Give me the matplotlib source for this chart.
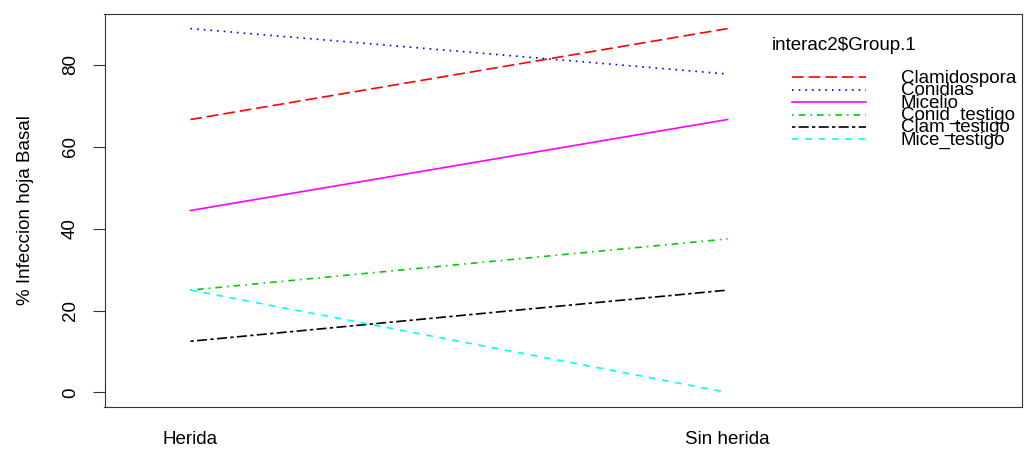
import matplotlib
matplotlib.use("Agg")
import matplotlib.pyplot as plt
from matplotlib.lines import Line2D

# datos de la interaccion (medias por grupo)
niveles = ["Herida", "Sin herida"]
grupos = ["Clamidospora", "Conidias", "Micelio", "Conid_testigo", "Clam_testigo", "Mice_testigo"]
herida = [66.67, 88.89, 44.44, 25.0, 12.5, 25.0]
sin_herida = [88.89, 77.78, 66.67, 37.5, 25.0, 0.0]
y_ticks = [0, 20, 40, 60, 80]

colores = ["#FF0000", "#0000FF", "#FF00FF", "#00CD00", "#000000", "#00FFFF"]
guiones = [(7, 3), (1, 3), None, (1, 3, 4, 3), (2, 2, 6, 2), (4, 4)]

plt.rcParams['font.family'] = ['Liberation Sans', 'DejaVu Sans']
plt.rcParams['font.size'] = 13.5

W, H = 1027, 449
fig = plt.figure(figsize=(W / 100, H / 100), dpi=100)
ax = fig.add_axes([104.5 / W, 1 - 407 / H, (1022 - 104.5) / W, (407 - 14) / H])

xs = [1, 2]
for g, a, b, c, d in zip(grupos, herida, sin_herida, colores, guiones):
    ln, = ax.plot(xs, [a, b], color=c, lw=1.2)
    if d is not None:
        ln.set_dashes(d)

ax.set_xlim(0.840, 2.548)
ax.set_ylim(-3.56, 92.45)
ax.set_xticks(xs)
ax.set_xticklabels(niveles)
ax.tick_params(axis='x', length=0, pad=17)
ax.set_yticks(y_ticks)
ax.tick_params(axis='y', length=8.5, width=0.8, pad=10, color='#333333')
for t in ax.get_yticklabels():
    t.set_rotation(90)
    t.set_va('center')
ax.set_ylabel("% Infeccion hoja Basal", labelpad=20)
for s in ax.spines.values():
    s.set_linewidth(0.8)
    s.set_color('#333333')

# leyenda al estilo R (lineas solapadas)
def fx(px):
    return px / W

def fy(py):
    return 1 - py / H

fig.text(fx(772), fy(45), "interac2$Group.1", ha='left', va='center')
y0, dy = 77.3, 12.4
for i, (g, c, d) in enumerate(zip(grupos, colores, guiones)):
    yy = y0 + i * dy
    ln = Line2D([fx(792), fx(866)], [fy(yy), fy(yy)], transform=fig.transFigure,
                color=c, lw=1.2)
    if d is not None:
        ln.set_dashes(d)
    fig.add_artist(ln)
    fig.text(fx(901), fy(yy + 1), g, ha='left', va='center')

fig.savefig("out.png", dpi=100)
